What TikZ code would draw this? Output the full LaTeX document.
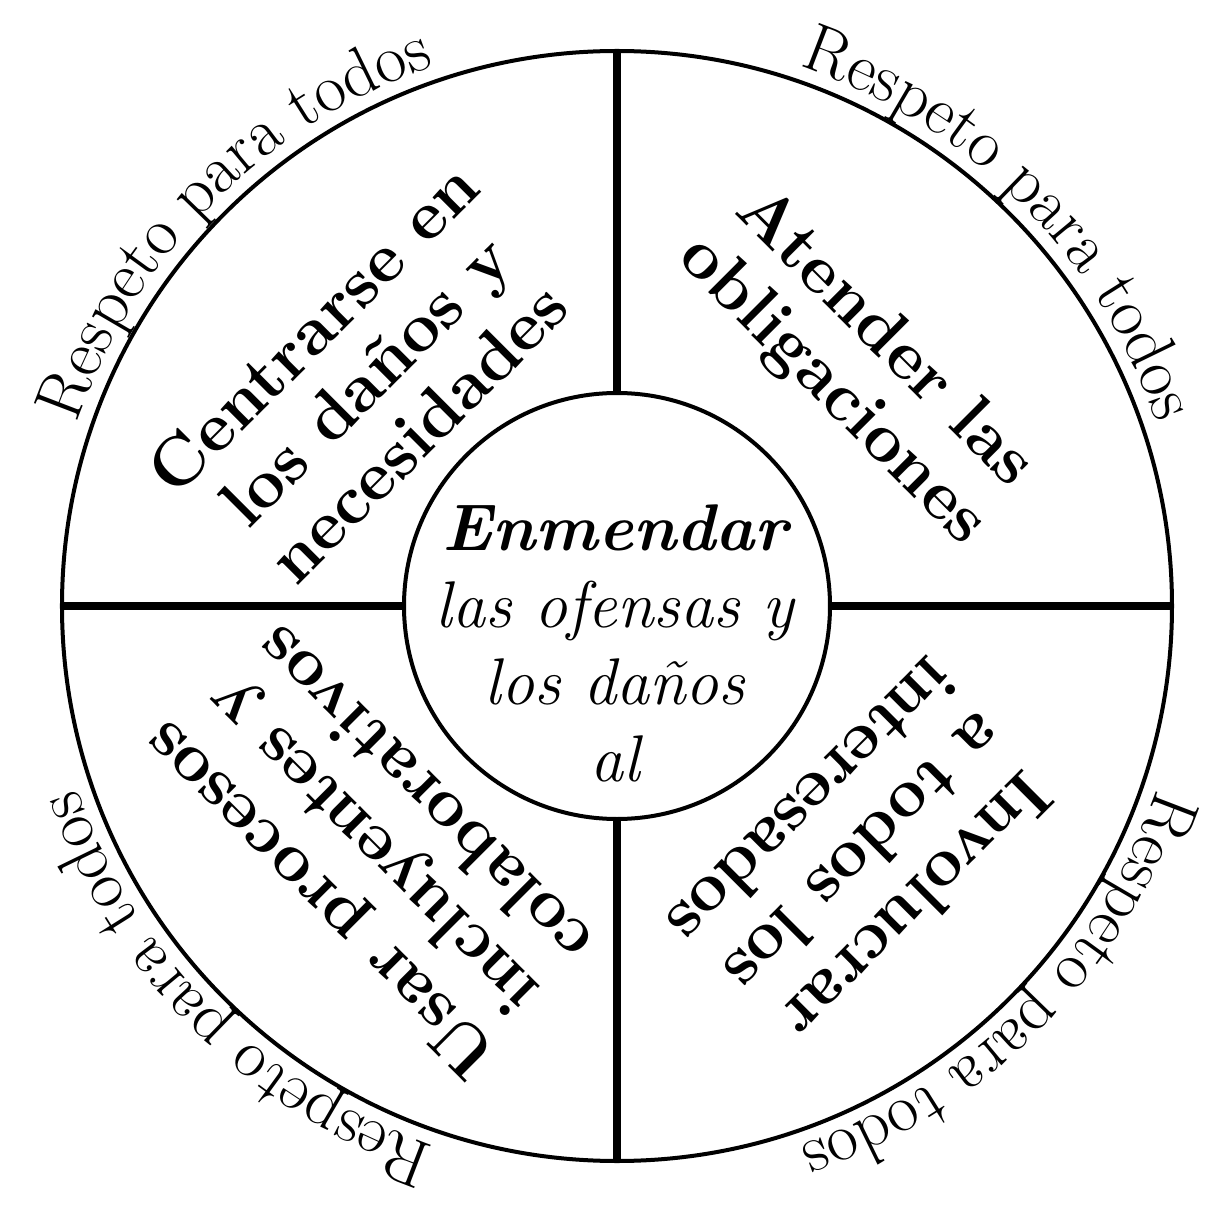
\documentclass[tikz,border=0pt]{standalone}
\usepackage{fontspec}
\usetikzlibrary{decorations.text}

\begin{document}
\begin{tikzpicture}[x=0.5pt, y=0.5pt,
   rim/.style={draw, circle, line width=2pt, minimum size=555pt, inner sep=0pt, outer sep=0pt},
   hub/.style={draw, circle, line width=2pt, minimum size=213pt, inner sep=0pt, outer sep=0pt},
   spoke/.style={line width=4pt},
   area/.style={font=\fontsize{34.5}{37}\selectfont\bfseries, align=center, inner sep=0pt},
   nucleo/.style={font=\fontsize{33}{38.5}\selectfont\itshape, align=center, inner sep=0pt},
   lema/.style={decorate, decoration={text along path, text align=center,
               text format delimiters={|}{|},
               text={|\fontsize{34}{40}\selectfont|Respeto para todos}}}]
  \useasboundingbox (-617,-604) rectangle (614,606);
  \node[rim] (rueda) at (0,0) {};
  \node[hub] (centro) at (0,0) {};
  \draw[spoke] (centro.north) -- (rueda.north);
  \draw[spoke] (centro.east) -- (rueda.east);
  \draw[spoke] (centro.south) -- (rueda.south);
  \draw[spoke] (centro.west) -- (rueda.west);
  \node[nucleo] (enmienda) at (-2,-37) {\textbf{Enmendar}\\las ofensas y\\los daños\\al};
  \node[area, rotate=45] (danos) at (-252,226) {Centrarse en\\los daños y\\necesidades};
  \node[area, rotate=-45] (oblig) at (241,241) {Atender las\\obligaciones};
  \node[area, rotate=-135] (invol) at (248,-249) {Involucrar\\a todos los\\interesados};
  \node[area, rotate=135] (proc) at (-247,-243) {Usar procesos\\incluyentes y\\colaborativos};
  % lema curvo, en sentido horario por fuera del borde
  \foreach \ang in {135,45,-45,-135}
    \path[lema] ({\ang+40}:570) arc[start angle=\ang+40, end angle=\ang-40, radius=570];
\end{tikzpicture}
\end{document}
